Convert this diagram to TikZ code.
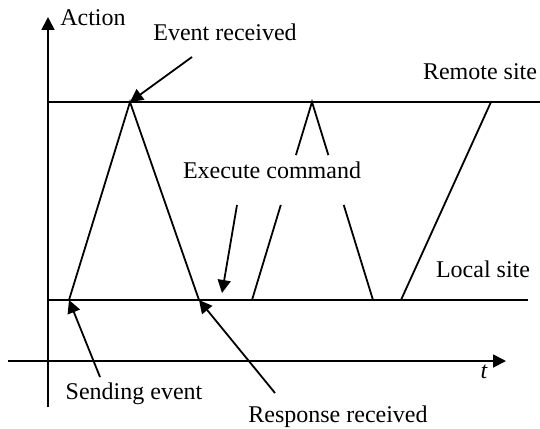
\documentclass[tikz,border=0pt]{standalone}
\usepackage{fontspec}
\setmainfont{Liberation Serif}
\usetikzlibrary{arrows.meta,calc}
\tikzset{
  line/.style={line width=1.8pt},
  pointer/.style={line width=1.8pt,-{Triangle[length=13pt,width=13pt]}},
  lbl/.style={anchor=base,inner sep=0pt,font=\fontsize{24}{28}\selectfont}
}
\begin{document}
\begin{tikzpicture}[x=1pt,y=-1pt]
\useasboundingbox (0,0) rectangle (540,428);

% axes
\coordinate (yb) at (48,407);
\coordinate (yt) at (48,17);
\coordinate (xl) at (8,361);
\coordinate (xr) at (506,361);
\draw[pointer] (yb) -- (yt);
\draw[pointer] (xl) -- (xr);

% site lines
\coordinate (r0) at (48,102);
\coordinate (r1) at (540,102);
\coordinate (l0) at (48,300);
\coordinate (l1) at (528,300);
\draw[line] (r0) -- (r1);
\draw[line] (l0) -- (l1);

% first exchange: event sent, received, response back
\coordinate (s1) at (69,300);
\coordinate (p1) at (130,102);
\coordinate (e1) at (199,300);
\draw[line] (s1) -- (p1) -- (e1);

% second exchange, interrupted around the label
\coordinate (s2) at (252,300);
\coordinate (p2) at (312,102);
\coordinate (e2) at (373,300);
\draw[line] (s2) -- ($(s2)!0.48!(p2)$);
\draw[line] ($(s2)!0.732!(p2)$) -- (p2) -- ($(p2)!0.268!(e2)$);
\draw[line] ($(p2)!0.52!(e2)$) -- (e2);

% third message
\coordinate (s3) at (401,300);
\coordinate (p3) at (491,102);
\draw[line] (s3) -- (p3);

% labels
\node[lbl] (action) at (93,26) {Action};
\node[lbl] (evrec) at (225,41) {Event received};
\node[lbl] (remote) at (480,79) {Remote site};
\node[lbl] (exec) at (272,178) {Execute command};
\node[lbl] (local) at (483,277) {Local site};
\node[lbl] (t) at (484,378) {\itshape t};
\node[lbl] (send) at (134,399) {Sending event};
\node[lbl] (resp) at (338,422) {Response received};

% pointers
\coordinate (a1) at (192,57);
\coordinate (a2) at (237,205);
\coordinate (a2t) at (222,293);
\coordinate (a3) at (100,377);
\coordinate (a4) at (275,393);
\draw[pointer] (a1) -- (p1);
\draw[pointer] (a2) -- (a2t);
\draw[pointer] (a3) -- (s1);
\draw[pointer] (a4) -- (e1);
\end{tikzpicture}
\end{document}
